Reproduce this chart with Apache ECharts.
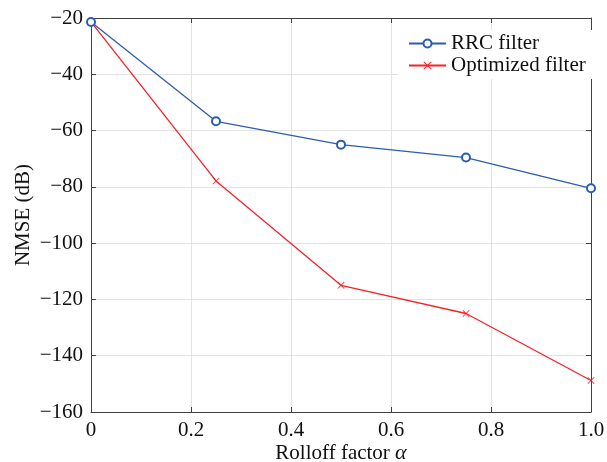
<!DOCTYPE html>
<html><head><meta charset="utf-8">
<script src="https://cdn.jsdelivr.net/npm/echarts@6/dist/echarts.min.js"></script>
<style>html,body{margin:0;padding:0;background:#fff}#c{width:607px;height:462px}</style>
</head><body><div id="c"></div>
<script>
const alphas = [0, 0.25, 0.5, 0.75, 1.0];
const rrc = [-21.4, -56.7, -65.0, -69.6, -80.5];
const optimized = [-21.4, -77.9, -115.0, -125.0, -148.8];
const seriesNames = ['RRC filter', 'Optimized filter'];
const yTicks = [-160, -140, -120, -100, -80, -60, -40, -20];

const FONT = 'Liberation Serif';
const FS = 21;
const axisColor = '#404040';
const crossPath = 'path://M0,0.8 L0.8,0 L5,4.2 L9.2,0 L10,0.8 L5.8,5 L10,9.2 L9.2,10 L5,5.8 L0.8,10 L0,9.2 L4.2,5 Z';

const chart = echarts.init(document.getElementById('c'), null, {renderer: 'canvas'});
const baseAxis = {
  axisLine: {show: true, onZero: false, lineStyle: {color: axisColor, width: 1}},
  axisTick: {show: true, inside: true, length: 5, lineStyle: {color: axisColor}},
};
chart.setOption({
  animation: false,
  backgroundColor: '#fff',
  grid: {left: 91, right: 16, top: 18, bottom: 50, containLabel: false, outerBoundsMode: 'none'},
  legend: {
    orient: 'vertical', left: 398, top: 30, itemWidth: 37, itemHeight: 10, itemGap: 1,
    backgroundColor: '#fff', padding: [3, 8, 3, 10],
    textStyle: {fontFamily: FONT, fontSize: FS, color: '#111'},
    data: seriesNames
  },
  xAxis: [
    Object.assign({}, baseAxis, {
      type: 'value', min: 0, max: 1, interval: 0.2, position: 'bottom',
      name: 'Rolloff factor {a|α}', nameLocation: 'middle', nameGap: 30, nameMoveOverlap: false,
      nameTextStyle: {fontFamily: FONT, fontSize: FS, color: '#111',
        rich: {a: {fontFamily: FONT, fontSize: FS + 1, fontStyle: 'italic', color: '#111'}}},
      axisLabel: {fontFamily: FONT, fontSize: FS, color: '#111', margin: 8,
        formatter: v => v === 0 ? '0' : v.toFixed(1)},
      splitLine: {show: true, lineStyle: {color: '#e3e3e3', width: 1}}
    }),
    Object.assign({}, baseAxis, {
      type: 'value', min: 0, max: 1, interval: 0.2, position: 'top',
      axisLabel: {show: false}, splitLine: {show: false}
    })
  ],
  yAxis: [
    Object.assign({}, baseAxis, {
      type: 'value', min: yTicks[0], max: yTicks[yTicks.length - 1], interval: 20, position: 'left',
      name: 'NMSE (dB)', nameLocation: 'middle', nameGap: 57, nameRotate: 90, nameMoveOverlap: false,
      nameTextStyle: {fontFamily: FONT, fontSize: FS, color: '#111'},
      axisLabel: {fontFamily: FONT, fontSize: FS, color: '#111', margin: 8,
        formatter: v => String(v).replace('-', '\u2212')},
      splitLine: {show: true, lineStyle: {color: '#e3e3e3', width: 1}}
    }),
    Object.assign({}, baseAxis, {
      type: 'value', min: yTicks[0], max: yTicks[yTicks.length - 1], interval: 20, position: 'right',
      axisLabel: {show: false}, splitLine: {show: false}
    })
  ],
  series: [
    {
      name: seriesNames[0], type: 'line', xAxisIndex: 0, yAxisIndex: 0,
      data: alphas.map((a, i) => [a, rrc[i]]),
      symbol: 'emptyCircle', symbolSize: 8, showAllSymbol: true,
      lineStyle: {color: '#2b5db0', width: 1.3},
      itemStyle: {color: '#2b5db0', borderWidth: 0.8},
      z: 3
    },
    {
      name: seriesNames[1], type: 'line', xAxisIndex: 0, yAxisIndex: 0,
      data: alphas.map((a, i) => [a, optimized[i]]),
      symbol: crossPath, symbolSize: 7, showAllSymbol: true,
      lineStyle: {color: '#f5222a', width: 1.3},
      itemStyle: {color: '#f5222a'},
      z: 2
    }
  ]
});
</script></body></html>
